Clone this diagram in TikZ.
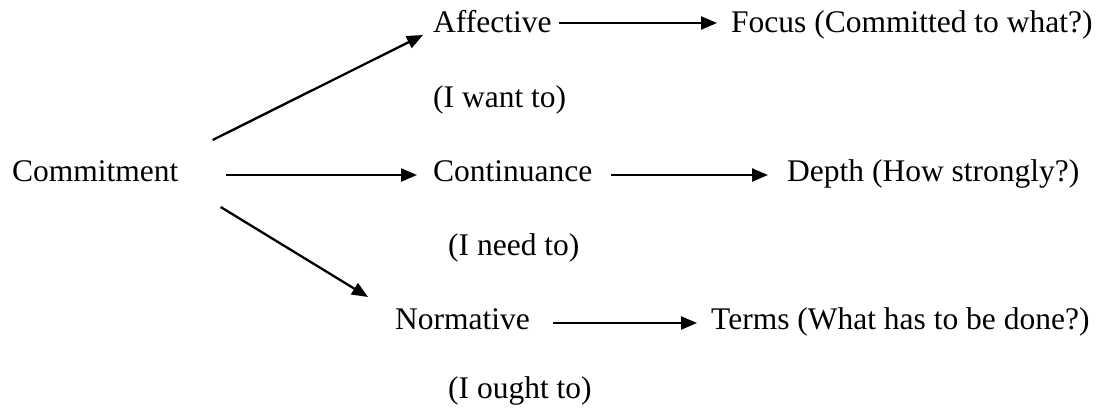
\documentclass[tikz,border=0pt]{standalone}
\usepackage{fontspec}
\setmainfont{Liberation Serif}
\usepackage{tikz}
\usetikzlibrary{arrows.meta, calc}
\definecolor{ink}{HTML}{000000}

\begin{document}
\begin{tikzpicture}[x=1pt, y=-1pt, font=\fontsize{31.5}{36}\selectfont,
    lbl/.style={ink, anchor=base west, inner sep=0pt},
    link/.style={ink, line width=2.3pt, -{Triangle[length=16pt,width=13pt]}}]
    \useasboundingbox (0,0) rectangle (1099,409);
    % root
    \node[lbl] (commit) at (12,181) {Commitment};
    % three kinds
    \node[lbl] (aff) at (433,33) {Affective};
    \node[lbl] (affnote) at (433,107) {(I want to)};
    \node[lbl] (cont) at (433,181) {Continuance};
    \node[lbl] (contnote) at (448,255) {(I need to)};
    \node[lbl] (norm) at (395,329) {Normative};
    \node[lbl] (normnote) at (448,398) {(I ought to)};
    % what each one gives
    \node[lbl] (focus) at (731,33) {Focus (Committed to what?)};
    \node[lbl] (depth) at (787,181) {Depth (How strongly?)};
    \node[lbl] (terms) at (711,329) {Terms (What has to be done?)};
    % arrows
    \draw[link] ($(commit.base east)+(34,-41)$) -- ($(aff.base west)+(-10,2)$);
    \draw[link] ($(commit.base east)+(47,-6)$) -- ($(cont.base west)+(-16,-6)$);
    \draw[link] ($(commit.base east)+(42,26)$) -- ($(norm.base west)+(-27,-32)$);
    \draw[link] ($(aff.base east)+(7,-10)$) -- ($(focus.base west)+(-14,-10)$);
    \draw[link] ($(cont.base east)+(18,-6)$) -- ($(depth.base west)+(-19,-6)$);
    \draw[link] ($(norm.base east)+(23,-6)$) -- ($(terms.base west)+(-14,-6)$);
\end{tikzpicture}
\end{document}
